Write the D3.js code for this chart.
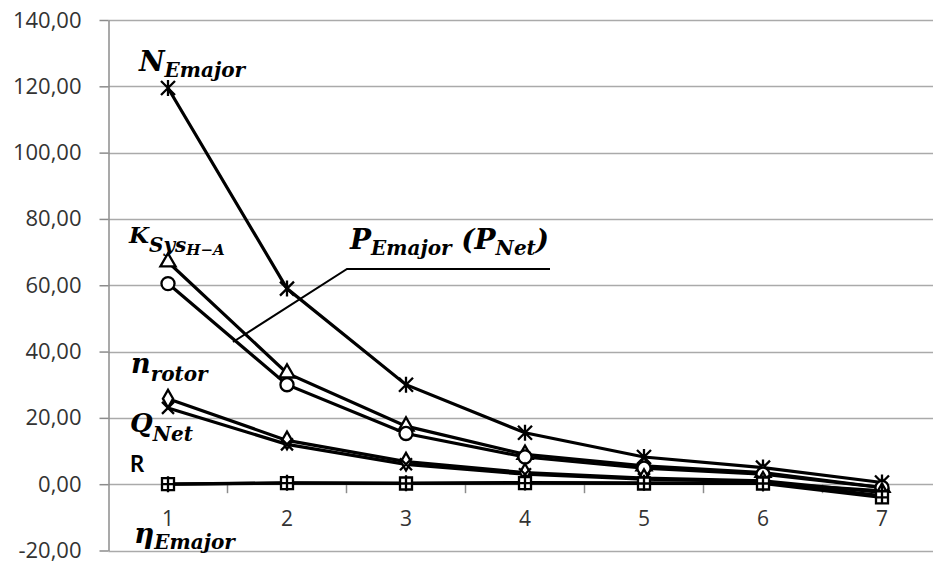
<!DOCTYPE html>
<html>
<head>
<meta charset="utf-8">
<script src="https://cdnjs.cloudflare.com/ajax/libs/d3/7.8.5/d3.min.js"></script>
<style>
  body { margin: 0; background: #fff; }
  #chart { display: block; }
  .tick text { font-family: "Open Sans", sans-serif; fill: #333; }
  .lbl { font-family: "DejaVu Serif", serif; font-weight: bold; font-style: italic; fill: #000; }
</style>
</head>
<body>
<svg id="chart" width="933" height="565"></svg>
<script>
var categories = [1, 2, 3, 4, 5, 6, 7];
var yTicks = [-20, 0, 20, 40, 60, 80, 100, 120, 140];

// values
var nEmajor  = [119.5, 59, 30, 15.5, 8.2, 5, 0.5];
var kSys     = [67, 33.5, 17.5, 9, 5.5, 3.5, -1];
var pEmajor  = [60.5, 30, 15.3, 8.2, 4.8, 3, -1];
var nRotor   = [25.8, 13.2, 6.8, 3.5, 1.8, 1, -2.5];
var qNet     = [23, 12, 6, 3, 1.5, 0.8, -3.5];
var rVals    = [0, 0.4, 0.3, 0.5, 0.4, 0.3, -2];
var etaVals  = [0, 0.3, 0.2, 0.3, 0.2, 0.2, -4];

var series = [
  {name: 'N', values: nEmajor, marker: 'star'},
  {name: 'K', values: kSys, marker: 'triangle'},
  {name: 'P', values: pEmajor, marker: 'circle'},
  {name: 'n', values: nRotor, marker: 'diamond'},
  {name: 'Q', values: qNet, marker: 'x'},
  {name: 'R', values: rVals, marker: 'plus'},
  {name: 'eta', values: etaVals, marker: 'square'}
];

var plot = {left: 108.5, top: 20, bottom: 550.5, band: 119};
var svg = d3.select('#chart');

var x = d3.scaleBand()
  .domain(categories)
  .range([plot.left, plot.left + plot.band * categories.length])
  .padding(0);
var y = d3.scaleLinear().domain([-20, 140]).range([plot.bottom, plot.top]);
var cx = function(c){ return x(c) + x.bandwidth() / 2; };

drawGrid();
drawAxes();
drawSeries();
drawLabels();

function drawGrid(){
  svg.append('g').selectAll('line')
    .data(yTicks)
    .join('line')
    .attr('x1', plot.left)
    .attr('x2', 933)
    .attr('y1', d => Math.round(y(d)) + 0.5)
    .attr('y2', d => Math.round(y(d)) + 0.5)
    .attr('stroke', '#aaaaaa')
    .attr('stroke-width', 1.5);
}

function drawAxes(){
  var yAxis = d3.axisLeft(y)
    .tickValues(yTicks)
    .tickSize(9)
    .tickSizeOuter(0)
    .tickPadding(18)
    .tickFormat(d => d.toFixed(2).replace('.', ','));
  var gy = svg.append('g')
    .attr('transform', 'translate(' + plot.left + ',0)')
    .call(yAxis);
  gy.selectAll('.tick line').attr('stroke', '#8c8c8c').attr('stroke-width', 1.5);
  gy.select('.domain').attr('stroke', '#8c8c8c').attr('stroke-width', 1.5);
  gy.selectAll('.tick text').style('font-size', '22px');

  var xAxis = d3.axisBottom(x).tickSize(0).tickPadding(27);
  var gx = svg.append('g')
    .attr('transform', 'translate(0,' + y(0) + ')')
    .call(xAxis);
  gx.select('.domain').remove();
  gx.selectAll('.tick text').style('font-size', '21px');

  // tick marks sit between the categories
  svg.append('g').selectAll('line')
    .data(categories.slice(1))
    .join('line')
    .attr('x1', d => x(d))
    .attr('x2', d => x(d))
    .attr('y1', y(0))
    .attr('y2', y(0) + 9)
    .attr('stroke', '#8c8c8c')
    .attr('stroke-width', 1.5);
}

function markerPath(type){
  var s = 7;
  switch(type){
    case 'star':
      return 'M' + (-s) + ',' + (-s) + 'L' + s + ',' + s +
             'M' + (-s) + ',' + s + 'L' + s + ',' + (-s) +
             'M0,' + (-s - 1) + 'L0,' + (s + 1);
    case 'x':
      return 'M-6,-6L6,6M-6,6L6,-6';
    case 'plus':
      return 'M0,-8L0,8M-6,0L6,0';
    case 'triangle':
      return d3.symbol(d3.symbolTriangle, 100)();
    case 'circle':
      return d3.symbol(d3.symbolCircle, 135)();
    case 'diamond':
      return d3.symbol(d3.symbolDiamond, 90)();
    case 'square':
      return 'M-6,-6H6V6H-6Z M0,-6V6 M-6,0H6';
  }
}

function drawSeries(){
  var line = d3.line()
    .x((d, i) => cx(categories[i]))
    .y(d => y(d));

  series.forEach(function(s){
    svg.append('path')
      .datum(s.values)
      .attr('d', line)
      .attr('fill', 'none')
      .attr('stroke', '#000')
      .attr('stroke-width', 3.2);
  });

  series.forEach(function(s){
    var open = ['triangle', 'circle', 'diamond', 'square'].includes(s.marker);
    svg.append('g').selectAll('path')
      .data(s.values)
      .join('path')
      .attr('transform', (d, i) => 'translate(' + cx(categories[i]) + ',' + y(d) + ')')
      .attr('d', markerPath(s.marker))
      .attr('fill', open ? '#fff' : 'none')
      .attr('stroke', '#000')
      .attr('stroke-width', 2.3);
  });
}

function richLabel(px, py, parts){
  var t = svg.append('text').attr('class', 'lbl').attr('x', px).attr('y', py);
  var shift = 0;
  parts.forEach(function(p){
    var off = p[2] || 0;
    t.append('tspan')
      .attr('dy', off - shift)
      .style('font-size', p[1] + 'px')
      .text(p[0]);
    shift = off;
  });
  return t;
}

function drawLabels(){
  richLabel(139, 71, [['N', 28], ['Emajor', 20, 6]]);
  richLabel(129, 243, [['K', 23], ['Sys', 20, 9], ['H\u2212A', 15, 12]]);
  richLabel(131, 373, [['n', 27], ['rotor', 20, 8]]);
  richLabel(130, 432, [['Q', 26], ['Net', 20, 9]]);
  svg.append('text')
    .attr('x', 130).attr('y', 472)
    .attr('font-family', 'Lato, "Open Sans", sans-serif')
    .attr('font-weight', 'bold')
    .attr('font-size', 22)
    .text('R');
  richLabel(134, 543, [['\u03b7', 28], ['Emajor', 20, 6]]);
  richLabel(350, 249, [['P', 28], ['Emajor', 20, 6], [' (', 28, 0], ['P', 28, 0], ['Net', 20, 6], [')', 28, 0]]);

  // leader line for the P label
  svg.append('path')
    .attr('d', 'M550,269H347L233,342')
    .attr('fill', 'none')
    .attr('stroke', '#000')
    .attr('stroke-width', 2);
}
</script>
</body>
</html>
